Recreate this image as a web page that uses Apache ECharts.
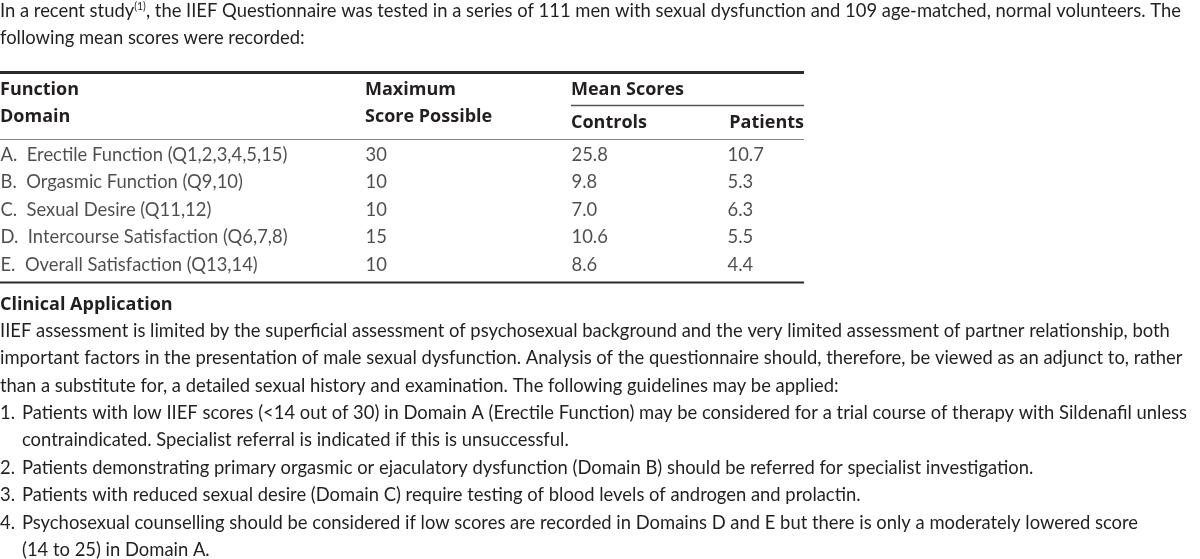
<!DOCTYPE html>
<html><head><meta charset="utf-8">
<script src="https://cdn.jsdelivr.net/npm/echarts@6/dist/echarts.min.js"></script>
<style>html,body{margin:0;padding:0;background:#fff}#c{width:1200px;height:559px}</style>
</head><body><div id="c"></div>
<script>
// ---------- data ----------
const introLines = [
  "In a recent study{sup|(1)}, the IIEF Questionnaire was tested in a series of 111 men with sexual dysfunction and 109 age-matched, normal volunteers. The",
  "following mean scores were recorded:"
];
const headerTop = ["Function", "Maximum", "Mean Scores"];
const headerBottom = ["Domain", "Score Possible", "Controls", "Patients"];
const domains = [
  "A.  Erectile Function (Q1,2,3,4,5,15)",
  "B.  Orgasmic Function (Q9,10)",
  "C.  Sexual Desire (Q11,12)",
  "D.  Intercourse Satisfaction (Q6,7,8)",
  "E.  Overall Satisfaction (Q13,14)"
];
const maxScores = [30, 10, 10, 15, 10];
const controls = [25.8, 9.8, 7.0, 10.6, 8.6];
const patients = [10.7, 5.3, 6.3, 5.5, 4.4];
const sectionTitle = "Clinical Application";
const paragraphLines = [
  "IIEF assessment is limited by the superficial assessment of psychosexual background and the very limited assessment of partner relationship, both",
  "important factors in the presentation of male sexual dysfunction. Analysis of the questionnaire should, therefore, be viewed as an adjunct to, rather",
  "than a substitute for, a detailed sexual history and examination. The following guidelines may be applied:"
];
const listNumbers = ["1.", "", "2.", "3.", "4.", ""];
const listLines = [
  "Patients with low IIEF scores (<14 out of 30) in Domain A (Erectile Function) may be considered for a trial course of therapy with Sildenafil unless",
  "contraindicated. Specialist referral is indicated if this is unsuccessful.",
  "Patients demonstrating primary orgasmic or ejaculatory dysfunction (Domain B) should be referred for specialist investigation.",
  "Patients with reduced sexual desire (Domain C) require testing of blood levels of androgen and prolactin.",
  "Psychosexual counselling should be considered if low scores are recorded in Domains D and E but there is only a moderately lowered score",
  "(14 to 25) in Domain A."
];

// ---------- layout ----------
const FONT = 'Lato';
const BOLD_FONT = '"Open Sans"';
const SIZE = 18.4;
const BOLD_SIZE = 18;
const INK = '#231f20';
const colX = [0, 365, 571, 727];
const tableRight = 804;
const lineStep = 27.4;

const chart = echarts.init(document.getElementById('c'), null, {renderer: 'canvas'});

function txt(x, y, text, opts) {
  opts = opts || {};
  const font = opts.bold ? ('bold ' + BOLD_SIZE + 'px ' + BOLD_FONT) : (SIZE + 'px ' + FONT);
  return {
    type: 'text', x: x, y: y, silent: true,
    style: Object.assign({
      text: text, fill: INK, font: font,
      textVerticalAlign: 'middle', textAlign: 'left',
      rich: {sup: {fontSize: 10.5, fill: INK, fontFamily: FONT, padding: [0, 0, 9, 0]}}
    }, opts.style || {})
  };
}
function rule(x1, x2, y, h, color) {
  return {type: 'rect', silent: true, shape: {x: x1, y: y - h / 2, width: x2 - x1, height: h}, style: {fill: color}};
}

const g = [];
introLines.forEach((t, i) => g.push(txt(0, 11 + i * 27, t)));
g.push(rule(0, tableRight, 72.5, 3, '#2a2a2a'));
g.push(txt(colX[0], 90, headerTop[0], {bold: true}));
g.push(txt(colX[1], 90, headerTop[1], {bold: true}));
g.push(txt(colX[2], 90, headerTop[2], {bold: true}));
g.push(rule(colX[2], tableRight, 105.5, 1.6, '#555'));
g.push(txt(colX[0], 117, headerBottom[0], {bold: true}));
g.push(txt(colX[1], 117, headerBottom[1], {bold: true}));
g.push(txt(colX[2], 123, headerBottom[2], {bold: true}));
g.push(txt(tableRight, 123, headerBottom[3], {bold: true, style: {textAlign: 'right'}}));
g.push(rule(0, tableRight, 139.5, 1, '#888'));
g.push(rule(0, tableRight, 282.5, 2, '#2a2a2a'));
g.push(txt(0, 305, sectionTitle, {bold: true}));
paragraphLines.forEach((t, i) => g.push(txt(0, 331 + i * lineStep, t)));
listLines.forEach((t, i) => {
  const y = 413 + i * lineStep;
  if (listNumbers[i]) g.push(txt(0, y, listNumbers[i]));
  g.push(txt(22, y, t));
});

const labelStyle = {show: true, position: 'right', distance: 0, color: INK, fontFamily: FONT, fontSize: SIZE};
function colSeries(x, values, fmt) {
  return {
    type: 'scatter', symbolSize: 1, itemStyle: {color: 'rgba(0,0,0,0)'}, silent: true,
    data: values.map((v, i) => ({value: [x, i], text: fmt(v)})),
    label: Object.assign({formatter: p => p.data.text}, labelStyle)
  };
}

chart.setOption({
  animation: false,
  backgroundColor: '#fff',
  grid: {left: 0, right: 0, top: 141, height: 137.5, containLabel: false},
  xAxis: {type: 'value', min: 0, max: 1200, show: false},
  yAxis: {type: 'category', inverse: true, data: domains.map((d, i) => i), show: false},
  series: [
    colSeries(colX[0], domains, v => v),
    colSeries(colX[1], maxScores, v => String(v)),
    colSeries(colX[2], controls, v => v.toFixed(1)),
    colSeries(colX[3], patients, v => v.toFixed(1))
  ],
  graphic: g
});
</script>
</body></html>
